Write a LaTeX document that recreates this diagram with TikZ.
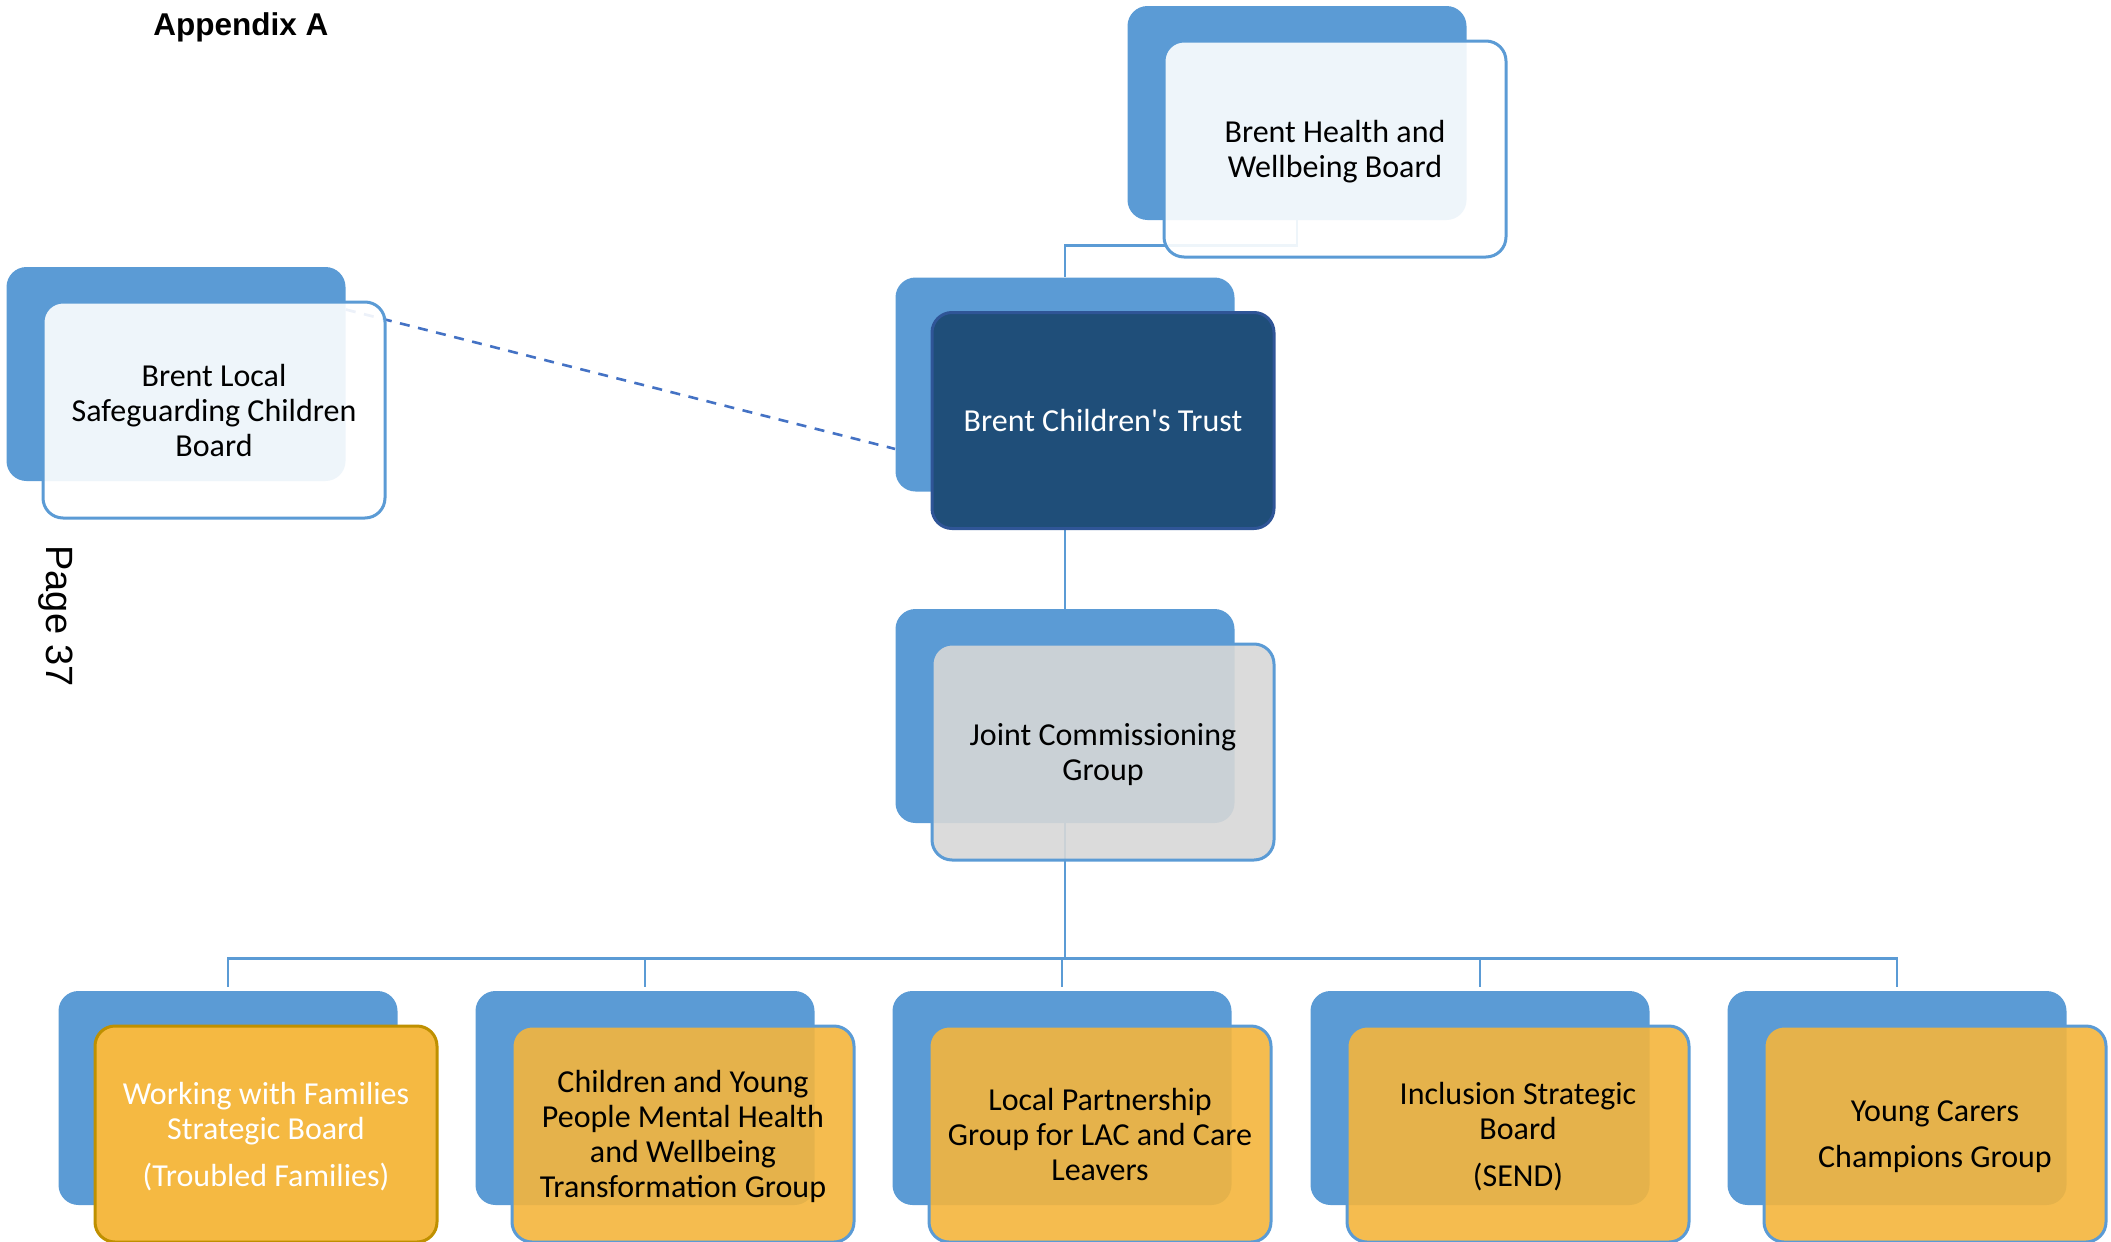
\documentclass[tikz,border=0pt]{standalone}
\usepackage{fontspec}
\setmainfont{Carlito}
\newfontfamily\arialfont{Liberation Sans}
\usetikzlibrary{calc}
\definecolor{backblue}{RGB}{91,155,213}
\definecolor{linkblue}{RGB}{68,114,196}
\definecolor{trustblue}{RGB}{31,78,121}
\definecolor{trustedge}{RGB}{47,85,151}
\definecolor{jcggrey}{RGB}{215,215,215}
\definecolor{goldfill}{RGB}{244,181,60}
\definecolor{wwffill}{RGB}{245,185,66}
\definecolor{wwfedge}{RGB}{191,144,0}

\begin{document}
\begin{tikzpicture}
[
  x=0.5pt, y=-0.5pt,
	backcard/.style={fill=backblue,rounded corners=10pt,minimum width=169.5pt,minimum height=107pt,inner sep=0pt},
	frontcard/.style={draw=backblue,line width=1.5pt,rounded corners=10pt,minimum width=171pt,minimum height=108pt,inner sep=0pt,align=center,text depth=0pt,font=\fontsize{16pt}{17.5pt}\selectfont},
	palecard/.style={frontcard,fill=white,fill opacity=0.9,text opacity=1},
	greycard/.style={frontcard,fill=jcggrey,fill opacity=0.9,text opacity=1},
	goldcard/.style={frontcard,fill=goldfill,fill opacity=0.9,text opacity=1},
	darkcard/.style={frontcard,fill=trustblue,draw=trustedge,text=white},
	ambercard/.style={frontcard,fill=wwffill,draw=wwfedge,text=white},
	conn/.style={draw=backblue,line width=1.3pt},
	link/.style={draw=linkblue,line width=1.3pt,dash pattern=on 5pt off 4.3pt}
]

\useasboundingbox (0,0) rectangle (2111,1242);

% headings
\node[anchor=base west,inner sep=0pt,font=\arialfont\bfseries\fontsize{15.75pt}{18pt}\selectfont] (title) at (153,35) {Appendix A};
\node[anchor=base west,inner sep=0pt,rotate=-90,font=\arialfont\fontsize{19pt}{22pt}\selectfont] (page) at (47,545) {Page 37};

% back cards
\node[backcard] (healthback) at (1297,113) {};
\node[backcard] (lscbback) at (176,374) {};
\node[backcard] (trustback) at (1065,384.5) {};
\node[backcard] (jcgback) at (1065,716) {};
\foreach \i/\x in {1/228,2/645,3/1062,4/1480,5/1897}
  \node[backcard] (low\i) at (\x,1098) {};

% connectors
\draw[conn] (healthback.south) -- ++(0,25) -| (trustback.north);
\draw[conn] (trustback.south) -- (jcgback.north);
\coordinate (bus) at ($(jcgback.south)+(0,135)$);
\foreach \i in {1,...,5}
  \draw[conn,shorten >=2pt] (jcgback.south) -- (bus) -| (low\i.north);
\draw[link] ($(lscbback.north east)!0.4!(lscbback.east)$) -- ($(trustback.west)!0.6!(trustback.south west)$);

% front cards
\node[palecard] (health) at ($(healthback)+(38,36)$) {Brent Health and\\Wellbeing Board};
\node[palecard] (lscb) at ($(lscbback)+(38,36)$) {Brent Local\\Safeguarding Children\\Board};
\node[darkcard] (trust) at ($(trustback)+(38,36)$) {Brent Children\textquotesingle s Trust};
\node[greycard] (jcg) at ($(jcgback)+(38,36)$) {Joint Commissioning\\Group};

% sub groups
\node[ambercard] (wwf) at ($(low1)+(38,36)$) {Working with Families\\Strategic Board\\[6pt](Troubled Families)};
\node[goldcard] (mental) at ($(low2)+(38,36)$) {Children and Young\\People Mental Health\\and Wellbeing\\Transformation Group};
\node[goldcard] (lac) at ($(low3)+(38,36)$) {Local Partnership\\Group for LAC and Care\\Leavers};
\node[goldcard] (send) at ($(low4)+(38,36)$) {Inclusion Strategic\\Board\\[6pt](SEND)};
\node[goldcard] (carers) at ($(low5)+(38,36)$) {Young Carers\\[5.5pt]Champions Group};

\end{tikzpicture}
\end{document}
